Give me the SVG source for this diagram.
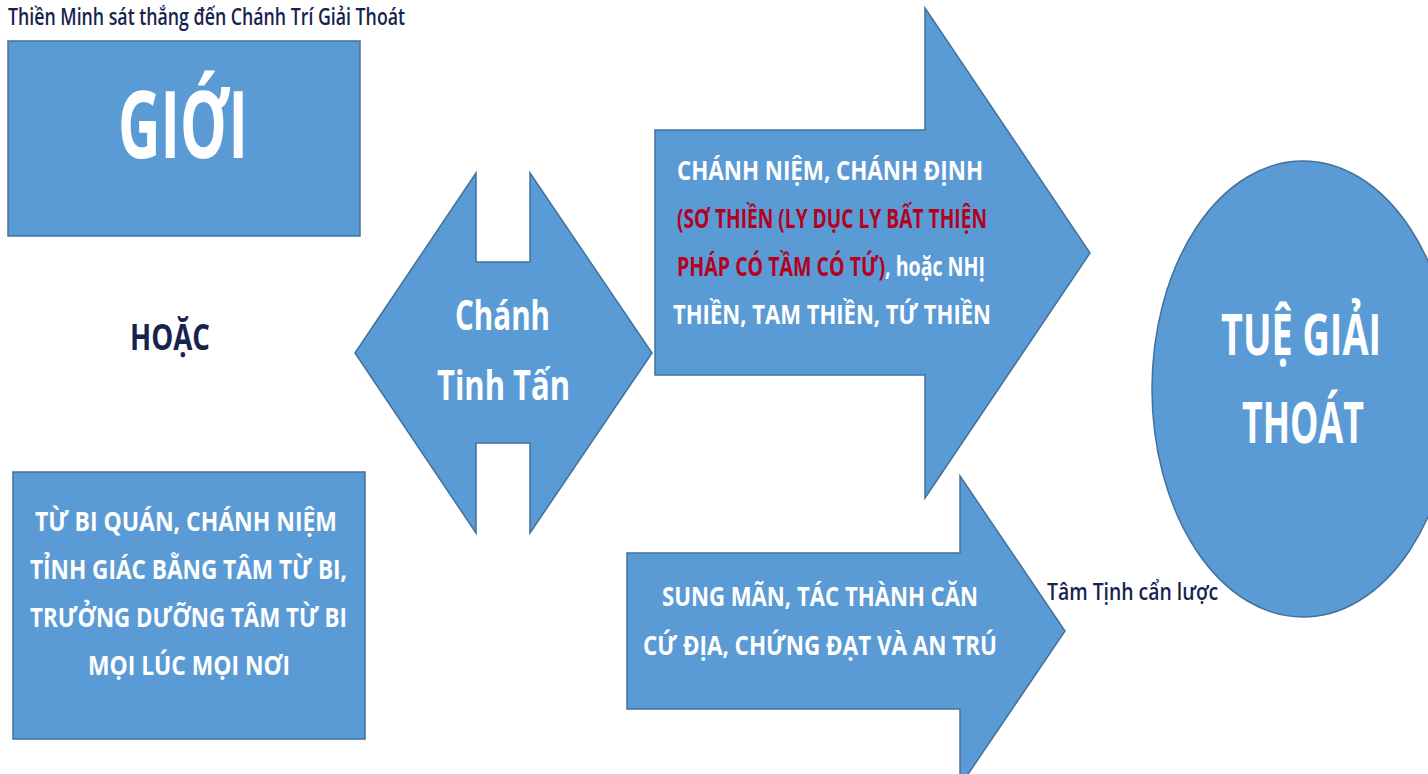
<svg xmlns="http://www.w3.org/2000/svg" width="1428" height="774" viewBox="0 0 1428 774">
<style>
.shape{fill:#5B9BD5;stroke:#41719C;stroke-width:1.5}
.w{font-family:"Open Sans","Noto Sans","Liberation Sans",sans-serif;font-weight:700;fill:#FFFFFF}
.r{font-family:"Open Sans","Noto Sans","Liberation Sans",sans-serif;font-weight:700;fill:#B5001F}
.red{fill:#B5001F}
.n{font-family:"Open Sans","Noto Sans","Liberation Sans",sans-serif;fill:#17234F}
</style>
<rect width="1428" height="774" fill="#FFFFFF"/>
<g id="title">
<text class="n" x="8" y="25" font-size="24" font-weight="600" textLength="397" lengthAdjust="spacingAndGlyphs">Thiền Minh sát thắng đến Chánh Trí Giải Thoát</text>
</g>
<g id="gioi">
<rect class="shape" x="8" y="41" width="352" height="195"/>
<text class="w" x="118" y="158" font-size="94" textLength="130" lengthAdjust="spacingAndGlyphs">GIỚI</text>
</g>
<g id="hoac">
<text class="n" x="130" y="350" font-size="36" font-weight="700" textLength="80" lengthAdjust="spacingAndGlyphs">HOẶC</text>
</g>
<g id="tu-bi">
<rect class="shape" x="13" y="472" width="352" height="267"/>
<text class="w" x="35" y="531" font-size="26" textLength="302" lengthAdjust="spacingAndGlyphs">TỪ BI QUÁN, CHÁNH NIỆM</text>
<text class="w" x="30" y="579" font-size="26" textLength="317" lengthAdjust="spacingAndGlyphs">TỈNH GIÁC BẰNG TÂM TỪ BI,</text>
<text class="w" x="30" y="627" font-size="26" textLength="317" lengthAdjust="spacingAndGlyphs">TRƯỞNG DƯỠNG TÂM TỪ BI</text>
<text class="w" x="88" y="675" font-size="26" textLength="202" lengthAdjust="spacingAndGlyphs">MỌI LÚC MỌI NƠI</text>
</g>
<g id="chanh-tinh-tan">
<polygon class="shape" points="355,353 476,173 476,262 530,262 530,173 652,353 530,533 530,443 476,443 476,533"/>
<text class="w" x="455" y="330" font-size="42" textLength="95" lengthAdjust="spacingAndGlyphs">Chánh</text>
<text class="w" x="437" y="400" font-size="42" textLength="133" lengthAdjust="spacingAndGlyphs">Tinh Tấn</text>
</g>
<g id="chanh-niem">
<polygon class="shape" points="655,130 925,130 925,8 1090,253 925,498 925,375 655,375"/>
<text class="w" x="677" y="180" font-size="26" textLength="306" lengthAdjust="spacingAndGlyphs">CHÁNH NIỆM, CHÁNH ĐỊNH</text>
<text class="r" x="677" y="228" font-size="26" textLength="310" lengthAdjust="spacingAndGlyphs">(SƠ THIỀN (LY DỤC LY BẤT THIỆN</text>
<text class="w" x="677" y="276" font-size="26" textLength="308" lengthAdjust="spacingAndGlyphs"><tspan class="red">PHÁP CÓ TẦM CÓ TỨ)</tspan>, hoặc NHỊ</text>
<text class="w" x="673" y="324" font-size="26" textLength="318" lengthAdjust="spacingAndGlyphs">THIỀN, TAM THIỀN, TỨ THIỀN</text>
</g>
<g id="sung-man">
<polygon class="shape" points="627,553 960,553 960,476 1065,631 960,786 960,709 627,709"/>
<text class="w" x="662" y="606" font-size="27" textLength="316" lengthAdjust="spacingAndGlyphs">SUNG MÃN, TÁC THÀNH CĂN</text>
<text class="w" x="643" y="655" font-size="27" textLength="354" lengthAdjust="spacingAndGlyphs">CỨ ĐỊA, CHỨNG ĐẠT VÀ AN TRÚ</text>
</g>
<g id="tue-giai-thoat">
<ellipse class="shape" cx="1303" cy="389" rx="151" ry="228"/>
<text class="w" x="1221" y="355" font-size="57" textLength="160" lengthAdjust="spacingAndGlyphs">TUỆ GIẢI</text>
<text class="w" x="1242" y="443" font-size="57" textLength="122" lengthAdjust="spacingAndGlyphs">THOÁT</text>
</g>
<g id="tam-tinh">
<text class="n" x="1047" y="600" font-size="23" font-weight="600" textLength="171" lengthAdjust="spacingAndGlyphs">Tâm Tịnh cẩn lược</text>
</g>
<g id="connectors"/>
</svg>
